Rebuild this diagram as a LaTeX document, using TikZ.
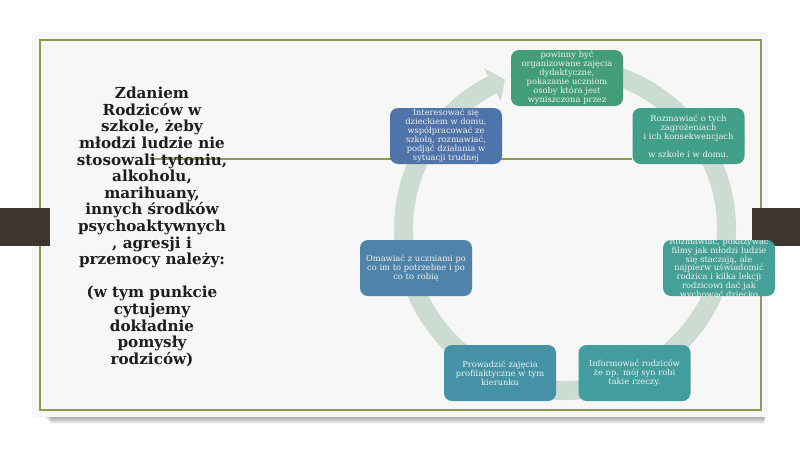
\documentclass[tikz,border=0pt]{standalone}
\usepackage{fontspec}
\setmainfont{DejaVu Serif}
\usetikzlibrary{patterns}
\definecolor{ringc}{RGB}{205,220,211}
\definecolor{cardc}{RGB}{247,247,247}
\definecolor{olivec}{RGB}{140,155,80}
\definecolor{barc}{RGB}{63,53,47}
\definecolor{headc}{RGB}{30,30,30}
\definecolor{cA}{RGB}{61,155,116}
\definecolor{cB}{RGB}{60,157,132}
\definecolor{cC}{RGB}{64,158,148}
\definecolor{cD}{RGB}{62,155,155}
\definecolor{cE}{RGB}{64,143,163}
\definecolor{cF}{RGB}{74,128,168}
\definecolor{cG}{RGB}{74,112,168}
\tikzset{
  boxnode/.style={rounded corners=8pt, minimum width=112pt, minimum height=56pt,
    inner sep=0pt, text width=112pt, align=center, text=white!94!black,
    font=\fontsize{8.3}{9}\selectfont,
    postaction={pattern=north west lines, pattern color=white, opacity=0.10}},
  heading/.style={align=center, text=headc, inner sep=0pt,
    font=\bfseries\fontsize{15.2}{16.6}\selectfont},
  oliveline/.style={draw=olivec, line width=1.2pt}
}
\begin{document}
\begin{tikzpicture}[x=1pt,y=-1pt]
\useasboundingbox (0,0) rectangle (800,450);
\fill[white] (0,0) rectangle (800,450);
% shadow of card
\foreach \i in {1,...,7}{
  \fill[black, opacity=0.05] (44+\i,412) rectangle (766-\i*0.3,417+\i);
}
\fill[cardc] (32,32) rectangle (768,417);
\draw[oliveline] (40,40) rectangle (761,410);
\draw[oliveline] (150,159) -- (632,159);
% side bars
\fill[barc] (0,208) rectangle (50,246);
\fill[barc] (752,208) rectangle (800,246);
% title
\node[heading] (title) at (152,227) {Zdaniem\\ Rodziców w\\ szkole, żeby\\ młodzi ludzie nie\\ stosowali tytoniu,\\ alkoholu,\\ marihuany,\\ innych środków\\ psychoaktywnych\\ , agresji i\\ przemocy należy:\\ ~\\ (w tym punkcie\\ cytujemy\\ dokładnie\\ pomysły\\ rodziców)};
% ring with arrow
\begin{scope}[shift={(565,229)}, y=1pt]
  \draw[ringc, line width=19pt] (80:161.5) arc[start angle=80, end angle=-243.8, radius=161.5];
  \fill[ringc] (116.7:180) -- (111.9:161) -- (116.7:143) -- cycle;
\end{scope}
% boxes
\node[boxnode, fill=cA] (b1) at (567,78) {powinny być\\ organizowane zajęcia\\ dydaktyczne,\\ pokazanie uczniom\\ osoby która jest\\ wyniszczona przez};
\node[boxnode, fill=cB] (b2) at (688.5,136) {Rozmawiać o tych\\ zagrożeniach\\ i ich konsekwencjach\\ ~\\ w szkole i w domu.};
\node[boxnode, fill=cC, path picture={
  \node[text width=112pt, align=center, inner sep=0pt, text=white!94!black,
        font=\fontsize{8.3}{8.8}\selectfont] at ([yshift=-0.5pt]path picture bounding box.center)
  {Rozmawiać, pokazywać\\ filmy jak młodzi ludzie\\ się staczają, ale\\ najpierw uświadomić\\ rodzica i kilka lekcji\\ rodzicowi dać jak\\ wychować dziecko};}] (b3) at (719,268) {};
\node[boxnode, fill=cD] (b4) at (634.5,373) {Informować rodziców\\ że np. mój syn robi\\ takie rzeczy.};
\node[boxnode, fill=cE] (b5) at (500,373) {Prowadzić zajęcia\\ profilaktyczne w tym\\ kierunku};
\node[boxnode, fill=cF] (b6) at (416,268) {Omawiać z uczniami po\\ co im to potrzebne i po\\ co to robią};
\node[boxnode, fill=cG] (b7) at (446,136) {Interesować się\\ dzieckiem w domu,\\ współpracować ze\\ szkołą, rozmawiać,\\ podjąć działania w\\ sytuacji trudnej};
\end{tikzpicture}
\end{document}
